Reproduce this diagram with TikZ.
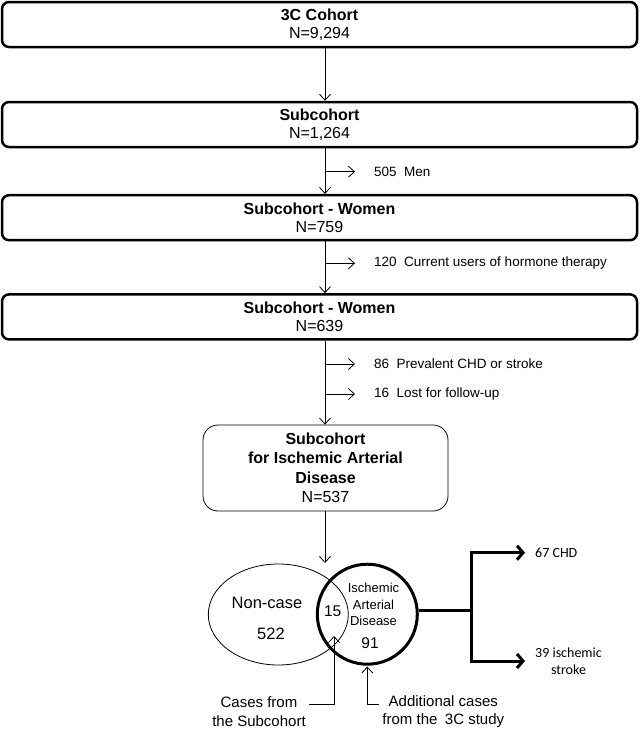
\documentclass[tikz,border=0pt]{standalone}
\usepackage{fontspec}
\setmainfont{Liberation Sans}
\newfontfamily\calibrifont{Carlito}
\usepackage{tikz}
\usetikzlibrary{arrows.meta, positioning, shapes.geometric, calc}

\begin{document}
\begin{tikzpicture}[x=1pt, y=-1pt,
  stage/.style={draw, line width=2.5pt, rounded corners=7pt, minimum width=635pt,
    minimum height=45pt, align=center, inner sep=0pt, font=\fontsize{16}{18.5}\selectfont},
  flow/.style={line width=0.8pt, -{Straight Barb[length=6pt, width=11pt]}},
  excl/.style={anchor=west, inner xsep=19pt, inner ysep=0pt, font=\fontsize{13.5}{16}\selectfont},
  branch/.style={line width=3pt, -{Straight Barb[length=6pt, width=14pt]}},
  outcome/.style={anchor=west, inner xsep=10pt, align=center, font=\calibrifont\fontsize{14}{17.5}\selectfont},
  caption/.style={align=center, inner sep=3pt, font=\fontsize{15}{18.4}\selectfont}]
  \useasboundingbox (0,0) rectangle (640,729);

  % Cohort selection boxes
  \node[stage] (cohort) at (319.5,24.5) {\textbf{3C Cohort}\\N=9,294};
  \node[stage] (sub) at (319.5,124.5) {\textbf{Subcohort}\\N=1,264};
  \node[stage] (women) at (319.5,217.7) {\textbf{Subcohort - Women}\\N=759};
  \node[stage] (nonht) at (319.5,316.9) {\textbf{Subcohort - Women}\\N=639};
  \node[draw, line width=0.8pt, rounded corners=15pt, minimum width=245pt, minimum height=86pt,
    align=center, inner sep=0pt, font=\fontsize{16}{19.5}\selectfont] (iadbox) at (325.5,468)
    {\textbf{Subcohort}\\\textbf{for Ischemic Arterial}\\\textbf{Disease}\\N=537};

  \coordinate (axis) at (325,0);
  \coordinate (venntop) at (325,563);

  % Exclusions
  \node[excl] (men) at (355,171.7) {505\ \ Men};
  \node[excl] (hormone) at (355,263.3) {120\ \ Current users of hormone therapy};
  \node[excl] (prevalent) at (355,364) {86\ \ Prevalent CHD or stroke};
  \node[excl] (lost) at (355,394) {16\ \ Lost for follow-up};

  \draw[flow] (cohort.south -| axis) -- (sub.north -| axis);
  \draw[flow] (sub.south -| axis) -- (women.north -| axis);
  \draw[flow] (women.south -| axis) -- (nonht.north -| axis);
  \draw[flow] (nonht.south -| axis) -- (iadbox.north -| axis);
  \draw[flow] (iadbox.south -| axis) -- (venntop);
  \draw[flow] (men.west -| axis) -- (men.west);
  \draw[flow] (hormone.west -| axis) -- (hormone.west);
  \draw[flow] (prevalent.west -| axis) -- (prevalent.west);
  \draw[flow] (lost.west -| axis) -- (lost.west);

  % Venn diagram
  \node[ellipse, draw, line width=0.8pt, minimum width=140pt, minimum height=101pt,
    inner sep=0pt] (noncase) at (278.3,614.5) {};
  \node[circle, draw, line width=3pt, minimum size=100pt, inner sep=0pt] (iad) at (367.3,614.2) {};
  \node[font=\fontsize{16.5}{19}\selectfont] (nclabel) at (267,603.3) {Non-case};
  \node[font=\fontsize{16.5}{19}\selectfont] (ncn) at (271,634) {522};
  \node[font=\fontsize{15.5}{18}\selectfont] (both) at (332.7,611.3) {15};
  \node[align=center, font=\fontsize{13}{16.2}\selectfont] (iadlabel) at (373.5,604.5)
    {Ischemic\\Arterial\\Disease};
  \node[font=\fontsize{15.5}{18}\selectfont] (iadn) at (370,642.7) {91};

  % Outcomes
  \coordinate (fork) at (471,610.7);
  \node[outcome] (chd) at (525,552.7) {67 CHD};
  \node[outcome] (stroke) at (525,661) {39 ischemic\\stroke};
  \draw[branch] (fork -| iad.east) -- (fork) |- (chd.west);
  \draw[branch] (fork) |- (stroke.west);

  % Case origins
  \node[caption] (cases) at (259,711.5) {Cases from\\the Subcohort};
  \node[caption] (extra) at (443.3,711.5) {Additional cases\\from the\enspace 3C study};
  \coordinate (ovltip) at (334,636);
  \coordinate (addtip) at (367.3,666.5);
  \draw[flow] ([yshift=7.5pt]cases.east) -| (ovltip);
  \draw[flow] ([yshift=7.5pt]extra.west) -| (addtip);
\end{tikzpicture}
\end{document}
